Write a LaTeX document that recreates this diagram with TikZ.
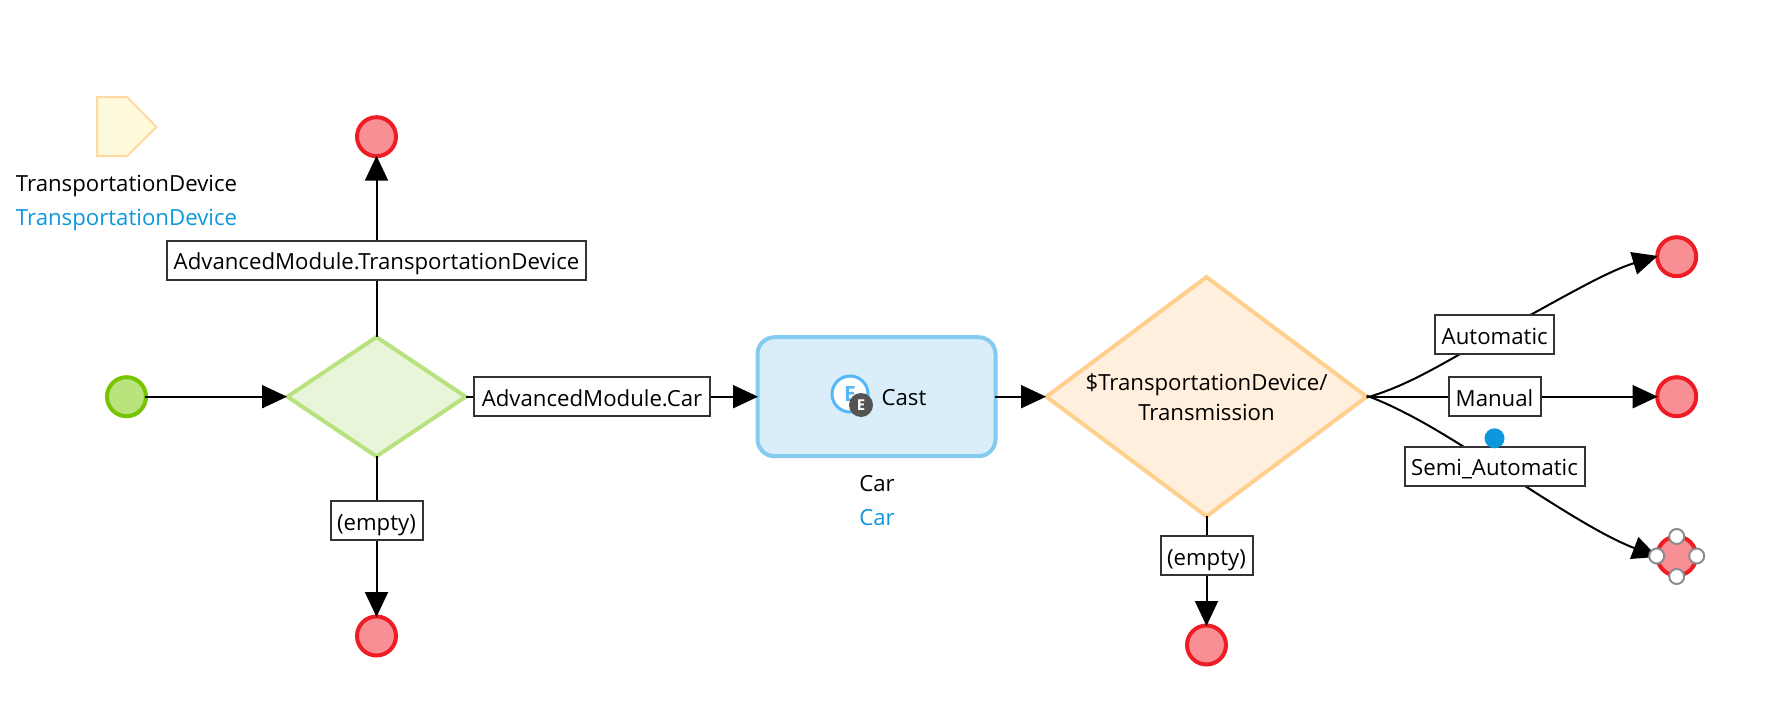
\documentclass[tikz,border=0pt]{standalone}
\usepackage{fontspec}
\setmainfont{Open Sans}
\usetikzlibrary{arrows.meta,shapes.geometric,backgrounds}
\pgfdeclarelayer{front}
\pgfsetlayers{background,main,front}
\definecolor{lblue}{HTML}{0D97DC}
\definecolor{redfill}{HTML}{F78F95}
\definecolor{redline}{HTML}{EE1C25}
\definecolor{startline}{HTML}{76C500}
\definecolor{startfill}{HTML}{B9E37D}
\definecolor{gsline}{HTML}{B8E27F}
\definecolor{gsfill}{HTML}{E8F5D8}
\definecolor{osline}{HTML}{FFCF8E}
\definecolor{osfill}{HTML}{FFEFDC}
\definecolor{pline}{HTML}{FFD9A0}
\definecolor{pfill}{HTML}{FFFADB}
\definecolor{acline}{HTML}{85CBF0}
\definecolor{acfill}{HTML}{DAEEFA}
\definecolor{icline}{HTML}{55B7F5}
\tikzset{
  base/.style={font=\fontsize{22.2}{26}\selectfont},
  endev/.style={circle,draw=redline,fill=redfill,line width=4pt,minimum size=39pt,inner sep=0pt},
  startev/.style={circle,draw=startline,fill=startfill,line width=4pt,minimum size=39pt,inner sep=0pt},
  lbl/.style={base,rectangle,draw=black!80,fill=white,line width=2pt,inner sep=0pt,text=black,minimum height=39pt,text height=19pt,text depth=0pt},
  conn/.style={draw=black,line width=2pt,shorten >=-2.5pt,shorten <=-3pt,-{Triangle[length=25pt,width=23pt]}},
  handle/.style={circle,draw=black!45,fill=white,line width=2pt,minimum size=15pt,inner sep=0pt},
  caption/.style={base,inner sep=0pt,text=black,text height=17.5pt,text depth=0pt},
  captionb/.style={base,inner sep=0pt,text=lblue,text height=17.5pt,text depth=0pt},
}
\begin{document}
\begin{tikzpicture}[x=1pt,y=-1pt]
\useasboundingbox (0,0) rectangle (1778,725);
% parameter
\draw[draw=pline,fill=pfill,line width=2pt,line join=miter]
  (97,97) -- (127,97) -- (156.5,127) -- (127,156) -- (97,156) -- cycle;
\node[caption] (pname) at (126.5,183) {TransportationDevice};
\node[captionb] (ptype) at (126.5,217) {TransportationDevice};
% events
\node[startev] (start) at (126.5,396.7) {};
\node[endev] (e1) at (376.5,136.7) {};
\node[endev] (e2) at (376.5,636) {};
\node[endev] (e3) at (1206.5,645) {};
\node[endev] (e4) at (1676.7,256.7) {};
\node[endev] (e5) at (1676.7,396.7) {};
\node[endev] (e6) at (1676.7,556) {};
% splits
\node[diamond,draw=gsline,fill=gsfill,line width=4pt,
  minimum width=180pt,minimum height=121pt,inner sep=0pt,aspect=1.4] (split1) at (376.5,396.7) {};
\node[diamond,draw=osline,fill=osfill,line width=4pt,
  minimum width=322pt,minimum height=241pt,inner sep=0pt,aspect=1.33,align=center,base,text=black] (split2) at (1206.5,396.7)
  {\$TransportationDevice/\\[4pt]Transmission};
% action
\node[rectangle,rounded corners=17pt,draw=acline,fill=acfill,line width=4pt,
  minimum width=238pt,minimum height=119pt,inner sep=0pt] (cast) at (876.5,396.7) {};
\node[circle,draw=icline,fill=white,line width=3pt,minimum size=36pt,inner sep=0pt,
  text=icline,font=\fontsize{21}{24}\selectfont\bfseries] (icon) at (850,394) {E};
\node[circle,fill=black!67,minimum size=24pt,inner sep=0pt,text=white,font=\fontsize{15}{16}\selectfont\bfseries] (iconb) at (861,405) {E};
\node[caption] (casttxt) at (904,397) {Cast};
\node[caption] (carname) at (877,483) {Car};
\node[captionb] (cartype) at (877,517) {Car};
\begin{pgfonlayer}{front}
% labels
\node[lbl,minimum width=419pt] (l1) at (376.5,260.3) {AdvancedModule.TransportationDevice};
\node[lbl,minimum width=236pt] (l2) at (592,396.5) {AdvancedModule.Car};
\node[lbl,minimum width=92pt] (l3) at (376.5,520.5) {(empty)};
\node[lbl,minimum width=92pt] (l4) at (1206.5,555.5) {(empty)};
\node[lbl,minimum width=119pt] (l5) at (1494.7,334.5) {Automatic};
\node[lbl,minimum width=92pt] (l6) at (1494.5,396.5) {Manual};
\node[lbl,minimum width=180pt] (l7) at (1494.5,466.3) {Semi\_Automatic};
\node[circle,fill=lblue,minimum size=20pt,inner sep=0pt] (dot) at (1494.5,438.3) {};
% handles
\node[handle] (h1) at (1676.7,536.5) {};
\node[handle] (h2) at (1676.7,576.5) {};
\node[handle] (h3) at (1656.7,556) {};
\node[handle] (h4) at (1696.7,556) {};
\end{pgfonlayer}
% connectors
\draw[conn] (start) -- (split1.west);
\draw[conn] (split1.north) -- (e1.south);
\draw[conn] (split1.south) -- (e2.north);
\draw[conn] (split1.east) -- (cast.west);
\draw[conn] (cast.east) -- (split2.west);
\draw[conn] (split2.south) -- (e3.north);
\draw[conn] (split2.east) -- (e5.west);
\draw[conn] (split2.east) .. controls (1410,385) and (1445,362) .. (l5.center)
  .. controls (1555,302) and (1605,272) .. (e4.west);
\draw[conn] (split2.east) .. controls (1410,412) and (1450,438) .. (l7.center)
  .. controls (1550,502) and (1600,535) .. (e6.west);
\end{tikzpicture}
\end{document}
